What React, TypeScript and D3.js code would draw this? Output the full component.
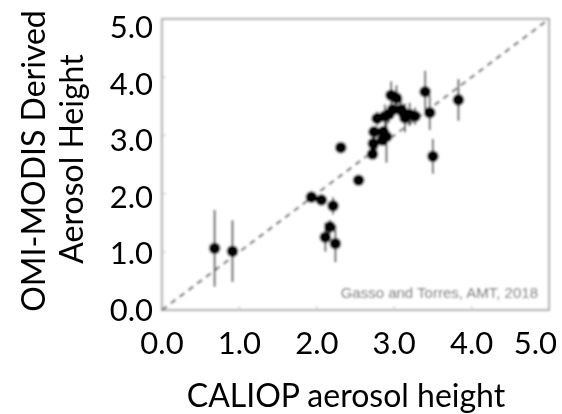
import { useEffect, useRef } from "react";
import * as d3 from "d3";

// CALIOP vs OMI-MODIS aerosol height (km)
const caliop = [0.68, 0.91, 1.93, 2.06, 2.21, 2.17, 2.11, 2.24, 2.31, 2.54, 2.72, 2.73, 2.74, 2.78, 2.88, 2.9, 2.93, 2.96, 3.03, 3.09, 3.14, 3.2, 3.27, 3.4, 3.46, 3.5, 3.83, 2.85, 2.98, 2.86, 3.11];
const omiModis = [1.06, 1.01, 1.94, 1.89, 1.79, 1.43, 1.25, 1.14, 2.79, 2.23, 2.68, 2.86, 3.06, 3.29, 3.33, 2.98, 3.36, 3.69, 3.64, 3.44, 3.3, 3.36, 3.33, 3.75, 3.39, 2.64, 3.61, 2.92, 3.44, 3.06, 3.4];
const errs = [0.66, 0.53, 0.06, 0.05, 0.15, 0.12, 0.25, 0.32, 0.05, 0.05, 0.08, 0.1, 0.1, 0.12, 0.2, 0.45, 0.15, 0.24, 0.22, 0.2, 0.25, 0.2, 0.15, 0.36, 0.3, 0.3, 0.36, 0.1, 0.1, 0.1, 0.1];
const tickValues = [0, 1, 2, 3, 4, 5];
const innerTicks = [1, 2, 3, 4];

const W = 562;
const H = 414;
const font = "Lato, 'Open Sans', sans-serif";

export default function App() {
  const ref = useRef<SVGSVGElement>(null);

  useEffect(() => {
    const svg = d3.select(ref.current);
    svg.selectAll("*").remove();

    const x = d3.scaleLinear().domain([0, 5]).range([162, 549]);
    const y = d3.scaleLinear().domain([0, 5]).range([310, 19]);
    // the printed y labels sit slightly apart from the frame ticks
    const yLab = d3.scaleLinear().domain([0, 5]).range([310, 27]);

    const defs = svg.append("defs");
    defs.append("filter").attr("id", "soft")
      .append("feGaussianBlur").attr("stdDeviation", 0.8);
    defs.append("filter").attr("id", "softText")
      .append("feGaussianBlur").attr("stdDeviation", 0.45);

    const plot = svg.append("g").attr("filter", "url(#soft)");

    plot.append("rect")
      .attr("x", x(0)).attr("y", y(5))
      .attr("width", x(5) - x(0)).attr("height", y(0) - y(5))
      .attr("fill", "white").attr("stroke", "#b4b4b4").attr("stroke-width", 2.2);

    plot.selectAll(".xt").data(innerTicks).join("line")
      .attr("x1", d => x(d)).attr("x2", d => x(d))
      .attr("y1", y(0)).attr("y2", y(0) - 4)
      .attr("stroke", "#c8c8c8").attr("stroke-width", 1.2);
    plot.selectAll(".yt").data(innerTicks).join("line")
      .attr("y1", d => y(d)).attr("y2", d => y(d))
      .attr("x1", x(0)).attr("x2", x(0) + 4)
      .attr("stroke", "#c8c8c8").attr("stroke-width", 1.2);

    plot.append("line")
      .attr("x1", x(0)).attr("y1", y(0)).attr("x2", x(5)).attr("y2", y(5))
      .attr("stroke", "#808080").attr("stroke-width", 2.4)
      .attr("stroke-dasharray", "6,5");

    const pts = caliop.map((c, i) => ({ c, o: omiModis[i], e: errs[i] }));

    plot.selectAll(".err").data(pts).join("line")
      .attr("x1", d => x(d.c)).attr("x2", d => x(d.c))
      .attr("y1", d => y(d.o - d.e)).attr("y2", d => y(d.o + d.e))
      .attr("stroke", "#222").attr("stroke-opacity", 0.75).attr("stroke-width", 2);

    plot.selectAll(".pt").data(pts).join("circle")
      .attr("cx", d => x(d.c)).attr("cy", d => y(d.o)).attr("r", 5.8)
      .attr("fill", "#000");

    plot.append("text")
      .attr("x", 538).attr("y", 298)
      .attr("text-anchor", "end")
      .attr("font-family", "Arial, 'Liberation Sans', sans-serif")
      .attr("font-size", 15).attr("fill", "#666")
      .text("Gasso and Torres, AMT, 2018");

    const labels = svg.append("g").attr("filter", "url(#softText)").attr("fill", "#000");

    // tick labels
    labels.selectAll(".xl").data(tickValues).join("text")
      .attr("x", d => (d === 5 ? 557 : x(d)))
      .attr("y", 354)
      .attr("text-anchor", d => (d === 5 ? "end" : "middle"))
      .attr("font-family", font).attr("font-size", 31)
      .text(d => d.toFixed(1));

    labels.selectAll(".yl").data(tickValues).join("text")
      .attr("x", 153).attr("y", d => yLab(d) + 11)
      .attr("text-anchor", "end")
      .attr("font-family", font).attr("font-size", 31)
      .text(d => d.toFixed(1));

    labels.append("text")
      .attr("x", 346).attr("y", 407)
      .attr("text-anchor", "middle")
      .attr("font-family", font).attr("font-size", 32)
      .text("CALIOP aerosol height");

    labels.append("text")
      .attr("transform", "translate(45,161) rotate(-90)")
      .attr("text-anchor", "middle")
      .attr("font-family", font).attr("font-size", 32)
      .text("OMI-MODIS Derived");

    labels.append("text")
      .attr("transform", "translate(83,159) rotate(-90)")
      .attr("text-anchor", "middle")
      .attr("font-family", font).attr("font-size", 32)
      .text("Aerosol Height");
  }, []);

  return (
    <svg ref={ref} width={W} height={H}
      style={{ position: "absolute", left: 0, top: 0, background: "white" }} />
  );
}
